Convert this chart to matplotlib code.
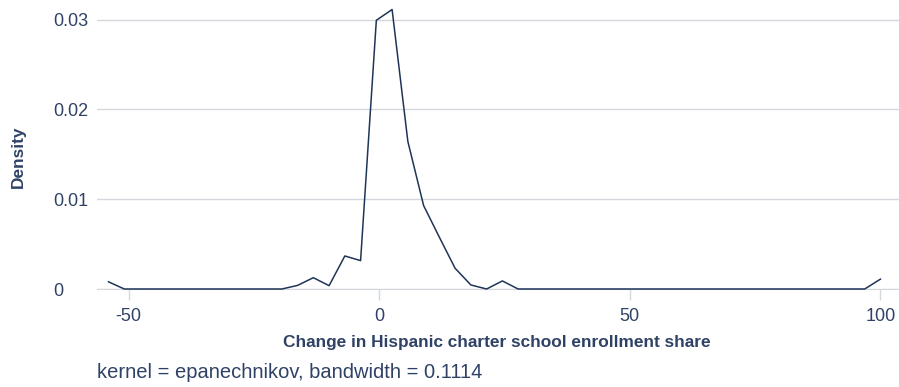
import numpy as np
import matplotlib
matplotlib.use("Agg")
import matplotlib.pyplot as plt

plt.rcParams['font.family'] = ['Liberation Sans', 'DejaVu Sans']
plt.rcParams['axes.unicode_minus'] = False

# kernel density estimate, evaluated on 50 evenly spaced points
x_start, x_end, n_points = -54.0, 100.0, 50
density = [
    0.0008, 0, 0, 0, 0, 0, 0, 0, 0, 0,
    0, 0, 0.0004, 0.00126, 0.00037, 0.00368, 0.00316, 0.02994, 0.03114, 0.01644,
    0.0093, 0.00577, 0.00231, 0.00045, 0, 0.0009, 0, 0, 0, 0,
    0, 0, 0, 0, 0, 0, 0, 0, 0, 0,
    0, 0, 0, 0, 0, 0, 0, 0, 0, 0.0011,
]
x_ticks = [-50, 0, 50, 100]
y_ticks = [0, 0.01, 0.02, 0.03]
y_labels = ['0', '0.01', '0.02', '0.03']

navy = '#2f4266'
grid = '#d4d7dc'

x = np.linspace(x_start, x_end, n_points)

fig = plt.figure(figsize=(8.99, 3.87), dpi=100)
ax = fig.add_axes([96.5 / 899, 98 / 387, 1 - 96.5 / 899, 1 - 98 / 387])

ax.plot(x, density, color='#1f3557', lw=1.1, zorder=3, clip_on=False)

ax.set_xlim(-56.4, 103.7)
ax.set_ylim(0, 0.0322)
ax.set_xticks(x_ticks)
ax.set_yticks(y_ticks)
ax.set_yticklabels(y_labels, ha='left')
ax.grid(axis='y', color=grid, lw=1)
ax.set_axisbelow(True)
for s in ['top', 'right', 'left']:
    ax.spines[s].set_visible(False)
ax.spines['bottom'].set_color(grid)
ax.tick_params(axis='x', colors=grid, length=8, width=1, pad=6,
               labelcolor=navy, labelsize=13)
ax.tick_params(axis='y', length=0, pad=31.3, labelcolor=navy, labelsize=13)

fig.text(18 / 899, 1 - 157 / 387, 'Density', rotation=90, ha='center', va='center',
         fontsize=12.4, fontweight='bold', color=navy)
fig.text(497 / 899, 1 - 342 / 387, 'Change in Hispanic charter school enrollment share',
         ha='center', va='center', fontsize=12.4, fontweight='bold', color=navy)
fig.text(97 / 899, 1 - 373 / 387, 'kernel = epanechnikov, bandwidth = 0.1114',
         ha='left', va='center', fontsize=14.5, color=navy)

fig.savefig('out.png', dpi=100)
